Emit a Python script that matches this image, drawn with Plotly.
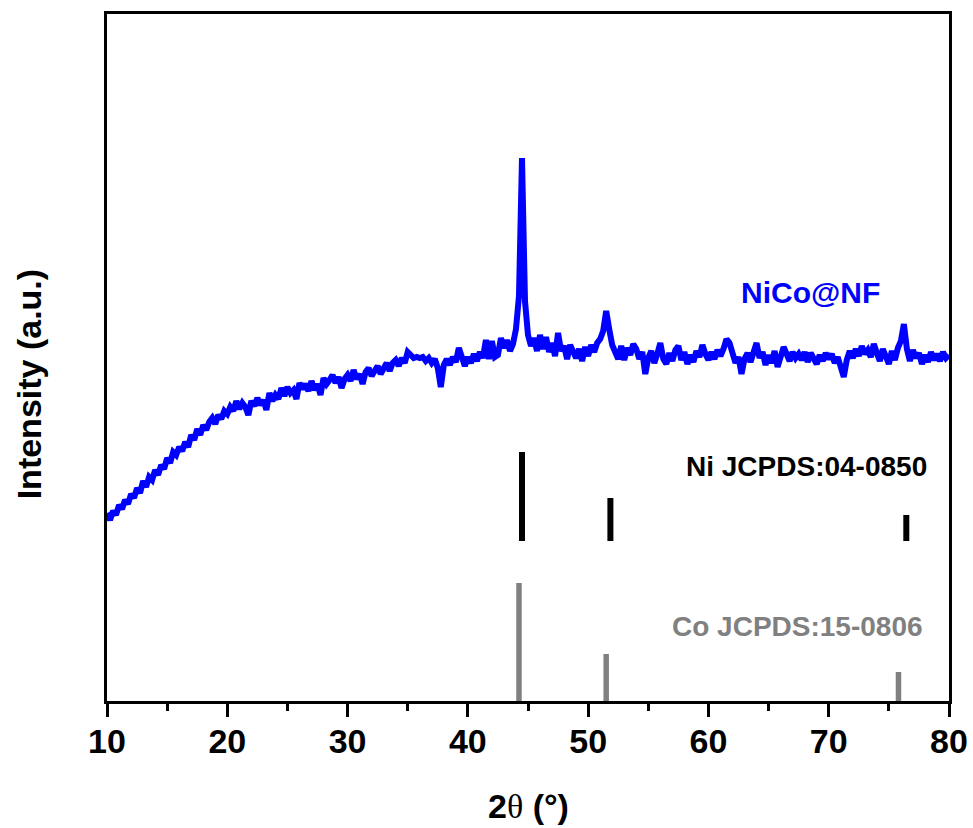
import numpy as np
import plotly.graph_objects as go

# ---- data ----
two_theta_start = 10.0
two_theta_step = 0.25
intensity = [
    188, 181, 190, 186, 196, 192, 201, 197, 207, 203,
    213, 208, 220, 214, 224, 221, 231, 226, 236, 232,
    243, 238, 249, 246, 254, 250, 259, 254, 266, 261,
    272, 266, 276, 271, 279, 283, 277, 286, 282, 290,
    287, 294, 290, 300, 292, 298, 294, 286, 300, 295,
    303, 296, 301, 291, 308, 300, 306, 302, 313, 305,
    314, 308, 311, 302, 318, 312, 317, 310, 320, 311,
    317, 306, 323, 317, 321, 326, 318, 324, 313, 322,
    326, 320, 331, 322, 327, 317, 329, 333, 325, 331,
    335, 327, 333, 338, 330, 338, 341, 335, 343, 338,
    349, 346, 343, 344, 343, 344, 340, 343, 338, 342,
    333, 314, 336, 342, 336, 344, 339, 353, 341, 335,
    344, 338, 347, 340, 349, 343, 361, 342, 360, 344,
    346, 363, 353, 361, 350, 357, 372, 405, 543, 400,
    366, 355, 363, 350, 366, 352, 364, 349, 358, 345,
    368, 350, 355, 342, 356, 348, 343, 352, 340, 354,
    345, 356, 349, 358, 362, 370, 390, 372, 356, 349,
    342, 355, 341, 353, 346, 357, 352, 342, 349, 327,
    343, 350, 338, 347, 358, 342, 337, 348, 340, 351,
    355, 341, 349, 337, 346, 339, 350, 344, 356, 347,
    341, 349, 342, 351, 345, 352, 362, 358, 348, 338,
    344, 327, 342, 348, 339, 351, 358, 343, 349, 336,
    346, 338, 350, 334, 345, 354, 347, 340, 349, 343,
    347, 341, 349, 339, 348, 343, 337, 346, 340, 348,
    342, 347, 338, 344, 335, 324, 341, 350, 343, 352,
    345, 355, 347, 351, 344, 357, 348, 340, 352, 343,
    337, 350, 341, 353, 360, 377, 352, 340, 351, 343,
    348, 337, 346, 339, 349, 341, 347, 340, 349, 343,
    346,
]
two_theta = [round(two_theta_start + i * two_theta_step, 2) for i in range(len(intensity))]

ni_pos = [44.5, 51.85, 76.45]
ni_height = [89, 43, 26]
co_pos = [44.25, 51.5, 75.8]
co_height = [118, 47, 29]

x_ticks = [10, 20, 30, 40, 50, 60, 70, 80]

NI_BASE = 160
CO_BASE = 0

FONT = "Liberation Sans, Arial, sans-serif"


def sticks(pos, height, base):
    xs, ys = [], []
    for p, h in zip(pos, height):
        xs += [p, p, None]
        ys += [base, base + h, None]
    return xs, ys


fig = go.Figure()

fig.add_trace(go.Scatter(x=two_theta, y=intensity, mode="lines",
                         line=dict(color="#0000FF", width=6),
                         showlegend=False, hoverinfo="skip"))

nx, ny = sticks(ni_pos, ni_height, NI_BASE)
fig.add_trace(go.Scatter(x=nx, y=ny, mode="lines",
                         line=dict(color="#000000", width=6),
                         showlegend=False, hoverinfo="skip"))
cx, cy = sticks(co_pos, co_height, CO_BASE)
fig.add_trace(go.Scatter(x=cx, y=cy, mode="lines",
                         line=dict(color="#808080", width=5.5),
                         showlegend=False, hoverinfo="skip"))

fig.update_layout(
    width=973, height=828,
    margin=dict(l=107, r=24, t=14, b=127),
    paper_bgcolor="white", plot_bgcolor="white",
    font=dict(family=FONT, color="black"),
    xaxis=dict(range=[10, 80], tickvals=x_ticks, ticktext=[str(t) for t in x_ticks],
               automargin=False, ticklabelstandoff=-5,
               showgrid=False, zeroline=False,
               showline=True, linecolor="black", linewidth=3, mirror=True,
               ticks="outside", ticklen=13, tickwidth=3, tickcolor="black",
               tickfont=dict(family=FONT, size=34, color="black", weight="bold"),
               minor=dict(tickvals=[15, 25, 35, 45, 55, 65, 75], ticks="outside",
                          ticklen=7, tickwidth=3, tickcolor="black")),
    yaxis=dict(range=[0, 687], showgrid=False, zeroline=False, automargin=False,
               showline=True, linecolor="black", linewidth=3, mirror=True,
               ticks="", showticklabels=False),
    annotations=[
        dict(text="2<span style='font-family:Liberation Serif, Times New Roman, serif;font-weight:normal'>θ</span> (°)",
             xref="paper", yref="paper", x=0.5, y=-0.153,
             showarrow=False, xanchor="center", yanchor="middle",
             font=dict(family=FONT, size=34, color="black", weight="bold")),
        dict(text="Intensity (a.u.)", xref="paper", yref="paper", x=-0.0926, y=0.461,
             textangle=-90, showarrow=False, xanchor="center", yanchor="middle",
             font=dict(family=FONT, size=34, color="black", weight="bold")),
        dict(text="NiCo@NF", x=68.5, y=409, xref="x", yref="y",
             showarrow=False, xanchor="center", yanchor="middle",
             font=dict(family=FONT, size=30, color="#0000FF", weight="bold")),
        dict(text="Ni JCPDS:04-0850", x=78.33, y=235, xref="x", yref="y",
             showarrow=False, xanchor="right", yanchor="middle",
             font=dict(family=FONT, size=28, color="black", weight="bold")),
        dict(text="Co JCPDS:15-0806", x=78.0, y=75, xref="x", yref="y",
             showarrow=False, xanchor="right", yanchor="middle",
             font=dict(family=FONT, size=28, color="#808080", weight="bold")),
    ],
)

fig.write_html("out.html")
